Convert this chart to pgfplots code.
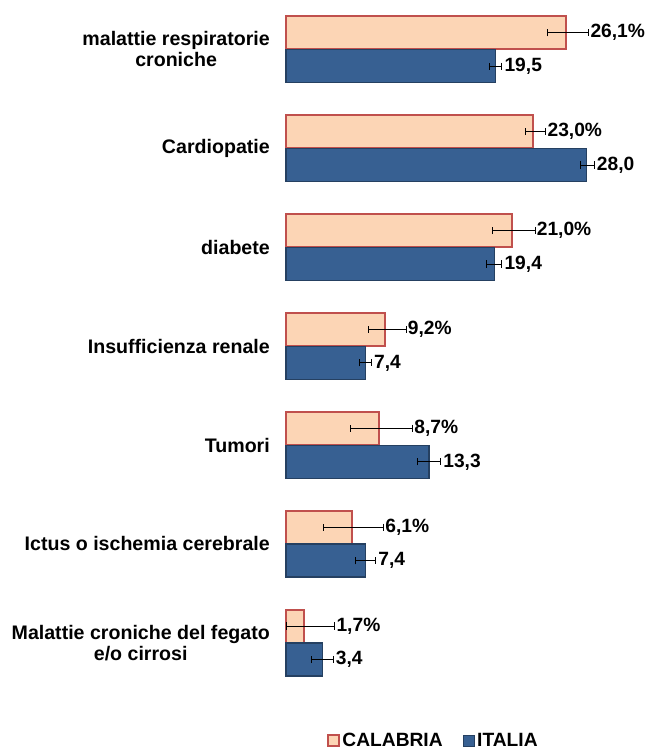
\documentclass[border=0pt]{standalone}
\usepackage{pgfplots}
\pgfplotsset{compat=1.18}
\usepackage{pgfplotstable}
\usepackage{fontspec}
\setmainfont{Liberation Sans}
\definecolor{calfill}{HTML}{FCD5B5}
\definecolor{caldraw}{HTML}{C0504D}
\definecolor{itafill}{HTML}{376092}
\definecolor{itadraw}{HTML}{254061}
% c = category index (6 = top), v = value, em/ep = error minus/plus, lx = label x
\pgfplotstableread{
c v em ep lx
6 26.1 1.8 2.1 28.2
5 23.0 0.7 1.2 24.2
4 21.0 1.75 2.2 23.2
3 9.2 1.5 2.0 11.2
2 8.7 2.7 3.1 11.8
1 6.1 2.65 3.0 9.1
0 1.7 1.7 2.85 4.55
}\cal
\pgfplotstableread{
c v em ep lx
6 19.5 0.6 0.6 20.1
5 28.0 0.55 0.7 28.7
4 19.4 0.7 0.7 20.1
3 7.4 0.55 0.55 7.95
2 13.3 1.1 1.1 14.4
1 7.4 0.95 0.95 8.35
0 3.4 1.0 1.0 4.4
}\ita
\begin{document}
\begin{tikzpicture}
\path[use as bounding box] (0,0) rectangle (649bp,753bp);
\begin{axis}[
  at={(286bp,753bp)}, anchor=north west,
  scale only axis,
  width=354.4bp, height=692.3bp,
  xmin=0, xmax=33,
  ymin=-0.5, ymax=6.5,
  axis line style={draw=none},
  major tick length=0pt,
  xtick=\empty,
  ytick={0,1,2,3,4,5,6},
  yticklabels={{Malattie croniche del fegato\\e/o cirrosi},{Ictus o ischemia cerebrale},{Tumori},{Insufficienza renale},{diabete},{Cardiopatie},{malattie respiratorie\\croniche}},
  yticklabel style={align=center, font=\fontsize{19.6bp}{21bp}\selectfont\bfseries, anchor=east, xshift=-16bp, inner sep=0pt},
  clip=false,
  legend style={at={(0.4163,-0.0703)}, anchor=center, draw=none, fill=none,
    legend columns=2, font=\fontsize{19.2bp}{21bp}\selectfont\bfseries,
    /tikz/every even column/.append style={column sep=18bp},
    inner sep=0pt},
  legend image code/.code={\draw[#1] (0bp,-5.5bp) rectangle (11bp,5.5bp);},
  legend cell align=left,
]
\addplot[xbar, bar width=33bp, bar shift=16.75bp, fill=calfill, draw=caldraw, line width=2bp]
  table[x=v, y=c] {\cal};
\addlegendentry{CALABRIA}
\addplot[xbar, bar width=33bp, bar shift=-16.75bp, fill=itafill, draw=itadraw, line width=1.5bp]
  table[x=v, y=c] {\ita};
\addlegendentry{ITALIA}
% error bars
\addplot[draw=none, mark=none, forget plot,
  error bars/.cd, x dir=both, x explicit, error mark=|,
  error bar style={black, line width=0.9bp},
  error mark options={black, line width=0.9bp, mark size=3.6bp}]
  table[x=v, y expr=\thisrow{c}+0.16936, x error plus=ep, x error minus=em] {\cal};
\addplot[draw=none, mark=none, forget plot,
  error bars/.cd, x dir=both, x explicit, error mark=|,
  error bar style={black, line width=0.9bp},
  error mark options={black, line width=0.9bp, mark size=3.6bp}]
  table[x=v, y expr=\thisrow{c}-0.16936, x error plus=ep, x error minus=em] {\ita};
% value labels
\addplot[draw=none, mark=none, forget plot, point meta=explicit,
  nodes near coords={\pgfmathprintnumber[fixed, fixed zerofill, precision=1, use comma, assume math mode=true]{\pgfplotspointmeta}\%},
  every node near coord/.append style={anchor=west, inner sep=1.5bp, yshift=16.75bp, font=\fontsize{19.2bp}{21bp}\selectfont\bfseries}]
  table[x=lx, y=c, meta=v] {\cal};
\addplot[draw=none, mark=none, forget plot, point meta=explicit,
  nodes near coords={\pgfmathprintnumber[fixed, fixed zerofill, precision=1, use comma, assume math mode=true]{\pgfplotspointmeta}},
  every node near coord/.append style={anchor=west, inner sep=2.5bp, yshift=-16.75bp, font=\fontsize{19.2bp}{21bp}\selectfont\bfseries}]
  table[x=lx, y=c, meta=v] {\ita};
\end{axis}
\end{tikzpicture}
\end{document}
